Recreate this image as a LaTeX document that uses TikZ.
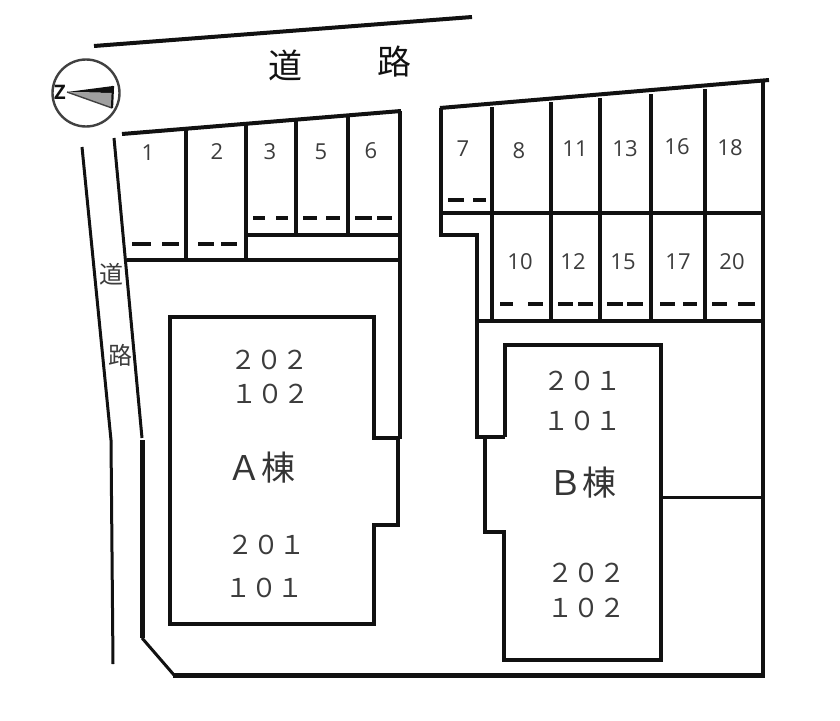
\documentclass[tikz,border=0pt]{standalone}
\usepackage{fontspec}
\usepackage{xcolor}
\setmainfont{Open Sans}
\newfontfamily\cjk{Noto Sans CJK JP}
\definecolor{ink}{HTML}{111111}
\definecolor{muted}{HTML}{3C3C3C}
\tikzset{
  planWall/.style={draw=ink, line width=4pt, line join=miter},
  planThin/.style={draw=ink, line width=3pt},
  planHeavy/.style={draw=ink, line width=5pt},
  planDash/.style={draw=ink, line width=4pt},
  spotLabel/.style={text=muted, font=\fontsize{22}{22}\selectfont, inner sep=0pt},
  roomLabel/.style={text=muted, font=\cjk\fontsize{26}{26}\selectfont, inner sep=0pt},
  blockLabel/.style={text=ink!85, font=\cjk\fontsize{34}{34}\selectfont, inner sep=0pt},
  roadLabel/.style={text=ink, font=\cjk\fontsize{34}{34}\selectfont, inner sep=0pt},
  sideLabel/.style={text=muted, font=\cjk\fontsize{24}{24}\selectfont, inner sep=0pt}
}
\begin{document}
\begin{tikzpicture}[x=1pt,y=-1pt]
  \useasboundingbox (0,0) rectangle (840,720);

  % road edges
  \draw[planWall] (94,46) -- (472,17);
  \draw[planThin] (82,147) -- (111,440) -- (113,664);
  \draw[planThin] (114,138) -- (142,438);
  \draw[planHeavy] (142,440) -- (142,638);
  \draw[planThin] (142,638) -- (174,675);
  \draw[planHeavy] (173,675) -- (765,675);

  % left parking block
  \draw[planWall] (122,134) -- (401,111);
  \draw[planWall] (400,111) -- (400,439);
  \draw[planWall] (186,129) -- (186,260);
  \draw[planWall] (246,124) -- (246,260);
  \draw[planWall] (296,120) -- (296,235);
  \draw[planWall] (348,116) -- (348,235);
  \draw[planWall] (246,235) -- (400,235);
  \draw[planWall] (127,260) -- (400,260);

  % right parking block
  \draw[planWall] (440,108) -- (769,80);
  \draw[planWall] (441,108) -- (441,235) -- (477,235) -- (477,437) -- (505,437);
  \draw[planWall] (492,107) -- (492,321);
  \draw[planWall] (551,102) -- (551,321);
  \draw[planWall] (600,98) -- (600,321);
  \draw[planWall] (651,94) -- (651,321);
  \draw[planWall] (705,89) -- (705,321);
  \draw[planWall] (763,80) -- (763,675);
  \draw[planWall] (441,213) -- (763,213);
  \draw[planWall] (477,321) -- (763,321);
  \draw[planThin] (661,497) -- (763,497);

  % buildings
  \draw[planWall] (374,438) -- (374,317) -- (170,317) -- (170,624) -- (374,624) -- (374,525) -- (398,525) -- (398,438) -- cycle;
  \draw[planWall] (505,437) -- (505,345) -- (661,345) -- (661,660) -- (504,660) -- (504,532) -- (485,532) -- (485,437);

  % stop lines
  \draw[planDash] (132,244) -- (151,244) (162,244) -- (179,244) (198,244) -- (214,244) (221,244) -- (237,244);
  \draw[planDash] (253,218) -- (265,218) (276,218) -- (288,218) (303,218) -- (317,218) (326,218) -- (340,218) (355,218) -- (372,218) (377,218) -- (392,218);
  \draw[planDash] (448,200) -- (464,200) (473,200) -- (486,200);
  \draw[planDash] (500,304) -- (513,304) (528,304) -- (543,304) (558,304) -- (573,304) (578,304) -- (593,304) (607,304) -- (623,304) (627,304) -- (643,304) (660,304) -- (675,304) (683,304) -- (697,304) (712,304) -- (727,304) (738,304) -- (755,304);

  % compass
  \draw[draw=ink!80, line width=2.4pt] (86,93) circle (33.5);
  \fill[fill=ink] (67,92) -- (113,86) -- (112,93) -- cycle;
  \fill[fill=ink!40] (67,92) -- (112,93) -- (112,108) -- cycle;
  \draw[draw=ink!80, line width=1.4pt] (67,92) -- (112,108);
  \draw[draw=ink, line width=2.2pt] (113,86) -- (112,108);
  \node[inner sep=0pt, text=ink, font=\bfseries\fontsize{20}{20}\selectfont] (north) at (60,92) {Z};

  % labels
  \node[roadLabel] (roadA) at (285,65) {道};
  \node[roadLabel] (roadB) at (394,62) {路};
  \node[sideLabel] (sideA) at (111,274) {道};
  \node[sideLabel] (sideB) at (120,355) {路};

  \node[spotLabel] (s1) at (148,153) {1};
  \node[spotLabel] (s2) at (217,152) {2};
  \node[spotLabel] (s3) at (270,152) {3};
  \node[spotLabel] (s5) at (321,152) {5};
  \node[spotLabel] (s6) at (371,151) {6};
  \node[spotLabel] (s7) at (463,149) {7};
  \node[spotLabel] (s8) at (519,151) {8};
  \node[spotLabel] (s11) at (575,149) {11};
  \node[spotLabel] (s13) at (625,149) {13};
  \node[spotLabel] (s16) at (677,147) {16};
  \node[spotLabel] (s18) at (730,148) {18};
  \node[spotLabel] (s10) at (520,262) {10};
  \node[spotLabel] (s12) at (573,262) {12};
  \node[spotLabel] (s15) at (623,262) {15};
  \node[spotLabel] (s17) at (678,262) {17};
  \node[spotLabel] (s20) at (732,262) {20};

  \node[roomLabel] (a202) at (269,360) {２０２};
  \node[roomLabel] (a102) at (270,394) {１０２};
  \node[blockLabel] (blockA) at (261,468) {Ａ棟};
  \node[roomLabel] (a201) at (266,545) {２０１};
  \node[roomLabel] (a101) at (264,588) {１０１};

  \node[roomLabel] (b201) at (582,381) {２０１};
  \node[roomLabel] (b101) at (582,421) {１０１};
  \node[blockLabel] (blockB) at (582,483) {Ｂ棟};
  \node[roomLabel] (b202) at (586,573) {２０２};
  \node[roomLabel] (b102) at (586,608) {１０２};
\end{tikzpicture}
\end{document}
